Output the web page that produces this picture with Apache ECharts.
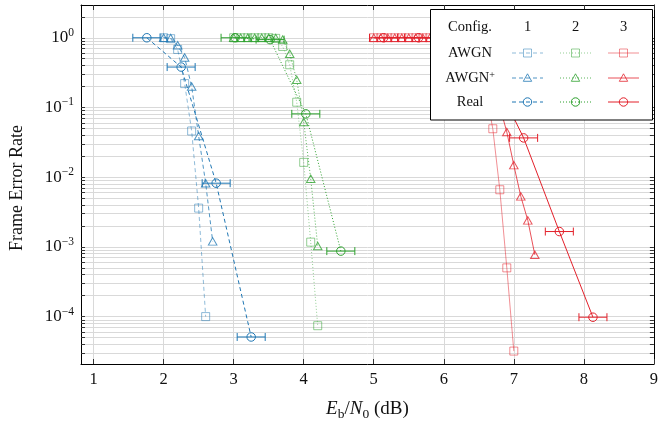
<!DOCTYPE html>
<html><head><meta charset="utf-8">
<script src="https://cdn.jsdelivr.net/npm/echarts@6/dist/echarts.min.js"></script>
<style>html,body{margin:0;padding:0;background:#fff}#c{width:661px;height:426px}</style>
</head><body><div id="c"></div>
<script>
// ---------- data ----------
const xTickValues = [1, 2, 3, 4, 5, 6, 7, 8, 9];
const yDecadeExponents = [-4, -3, -2, -1, 0];
const configLabels = ['1', '2', '3'];
const rowLabels = ['AWGN', 'AWGN+', 'Real'];

// Config 1
const awgn1X = [2.0, 2.1, 2.2, 2.3, 2.4, 2.5, 2.6];
const awgn1Y = [1.0, 0.97, 0.68, 0.22, 0.046, 0.0036, 0.0001];
const awgnPlus1X = [2.0, 2.1, 2.2, 2.3, 2.4, 2.5, 2.6, 2.7];
const awgnPlus1Y = [1.0, 0.99, 0.78, 0.52, 0.2, 0.039, 0.0082, 0.0012];
const real1X = [1.76, 2.25, 2.75, 3.25];
const real1Y = [1.0, 0.38, 0.0082, 5.1e-5];
const real1Err = [0.2, 0.2, 0.2, 0.2];

// Config 2
const awgn2X = [3.0, 3.1, 3.2, 3.3, 3.4, 3.5, 3.6, 3.7, 3.8, 3.9, 4.0, 4.1, 4.2];
const awgn2Y = [1, 1, 1, 1, 1, 1, 0.98, 0.75, 0.41, 0.119, 0.0163, 0.00117, 7.4e-5];
const awgnPlus2X = [3.0, 3.1, 3.2, 3.3, 3.4, 3.5, 3.6, 3.7, 3.8, 3.9, 4.0, 4.1, 4.2];
const awgnPlus2Y = [1, 1, 1, 1, 1, 1, 0.99, 0.94, 0.59, 0.25, 0.062, 0.0095, 0.00103];
const real2X = [3.02, 3.52, 4.03, 4.53];
const real2Y = [1.0, 0.94, 0.081, 8.7e-4];
const real2Err = [0.2, 0.2, 0.2, 0.2];

// Config 3
const awgn3X = [5.0, 5.1, 5.2, 5.3, 5.4, 5.5, 5.6, 5.7, 5.8, 5.9, 6.0, 6.1, 6.2, 6.3, 6.4, 6.5, 6.6, 6.7, 6.8, 6.9, 7.0];
const awgn3Y = [1, 1, 1, 1, 1, 1, 1, 1, 1, 1, 1, 1, 1, 0.97, 0.85, 0.55, 0.17, 0.0495, 0.0066, 5.0e-4, 3.2e-5];
const awgnPlus3X = [5.0, 5.1, 5.2, 5.3, 5.4, 5.5, 5.6, 5.7, 5.8, 5.9, 6.0, 6.1, 6.2, 6.3, 6.4, 6.5, 6.6, 6.7, 6.8, 6.9, 7.0, 7.1, 7.2, 7.3];
const awgnPlus3Y = [1, 1, 1, 1, 1, 1, 1, 1, 1, 1, 1, 1, 1, 1, 0.92, 0.75, 0.5, 0.25, 0.103, 0.0445, 0.0149, 0.0053, 0.0024, 7.7e-4];
const real3X = [5.14, 5.64, 6.14, 6.64, 7.14, 7.65, 8.13];
const real3Y = [1.0, 1.0, 0.98, 0.39, 0.0366, 0.00166, 9.8e-5];
const real3Err = [0.2, 0.2, 0.2, 0.2, 0.2, 0.2, 0.2];

// ---------- styling ----------
const FONT = 'Liberation Serif';
const TXT = '#111';
const GRIDC = '#d9d9d9';
const configStyles = [
  { color: '#1f77b4', dash: [4, 3] },
  { color: '#2ca02c', dash: [1, 2] },
  { color: '#e3202a', dash: 'solid' }
];
const rowStyles = [
  { symbol: 'rect', size: 8, opacity: 0.5 },
  { symbol: 'triangle', size: [8.5, 7.5], opacity: 0.78 },
  { symbol: 'circle', size: 8.5, opacity: 1 }
];
const seriesData = [
  [[awgn1X, awgn1Y], [awgnPlus1X, awgnPlus1Y], [real1X, real1Y, real1Err]],
  [[awgn2X, awgn2Y], [awgnPlus2X, awgnPlus2Y], [real2X, real2Y, real2Err]],
  [[awgn3X, awgn3Y], [awgnPlus3X, awgnPlus3Y], [real3X, real3Y, real3Err]]
];

const lg = Math.log10;
const series = [];
seriesData.forEach((rows, ci) => {
  const cs = configStyles[ci];
  rows.forEach((d, ri) => {
    const rs = rowStyles[ri];
    series.push({
      type: 'line',
      name: rowLabels[ri] + ' ' + configLabels[ci],
      data: d[0].map((x, i) => [x, lg(d[1][i])]),
      symbol: rs.symbol,
      symbolSize: rs.size,
      showAllSymbol: true,
      lineStyle: { color: cs.color, width: 1, type: cs.dash, opacity: rs.opacity },
      itemStyle: { color: 'transparent', borderColor: cs.color, borderWidth: 1, opacity: rs.opacity },
      emphasis: { disabled: true },
      z: 2 + ri
    });
    if (d[2]) {
      series.push({
        type: 'custom',
        silent: true,
        z: 5,
        data: d[0].map((x, i) => [x, lg(d[1][i]), d[2][i]]),
        renderItem: (params, api) => {
          const x = api.value(0), y = api.value(1), e = api.value(2);
          const a = api.coord([x - e, y]), b = api.coord([x + e, y]);
          const st = { stroke: cs.color, lineWidth: 1, fill: null };
          return {
            type: 'group', children: [
              { type: 'line', shape: { x1: a[0], y1: a[1], x2: b[0], y2: b[1] }, style: st },
              { type: 'line', shape: { x1: a[0], y1: a[1] - 4, x2: a[0], y2: a[1] + 4 }, style: st },
              { type: 'line', shape: { x1: b[0], y1: b[1] - 4, x2: b[0], y2: b[1] + 4 }, style: st }
            ]
          };
        }
      });
    }
  });
});

// minor/major log positions for ticks & grid lines
const yMin = -4.68, yMax = 0.47;
const yTickPositions = [];
for (let d = -5; d <= 0; d++) {
  for (let k = 1; k <= 9; k++) {
    const v = d + lg(k);
    if (v >= yMin && v <= yMax) yTickPositions.push(v);
  }
}

// ---------- legend (table) ----------
const legBox = { x: 430.5, y: 9.5, w: 222, h: 110.5 };
const colX = [527.5, 575.5, 623.5];
const rowY = [53, 78, 102];
const labelX = 470, headerY = 27;
const LFS = 14.5;
const graphic = [];
graphic.push({ type: 'rect', z: 100, shape: { x: legBox.x, y: legBox.y, width: legBox.w, height: legBox.h },
  style: { fill: '#fff', stroke: '#000', lineWidth: 1 } });
graphic.push({ type: 'text', z: 101, x: labelX, y: headerY,
  style: { text: 'Config.', fontFamily: FONT, fontSize: LFS, fill: TXT, align: 'center', verticalAlign: 'middle' } });
configLabels.forEach((c, i) => graphic.push({ type: 'text', z: 101, x: colX[i], y: headerY,
  style: { text: c, fontFamily: FONT, fontSize: LFS, fill: TXT, align: 'center', verticalAlign: 'middle' } }));
rowLabels.forEach((r, ri) => {
  const txt = r.endsWith('+') ? r.slice(0, -1) + '{s|+}' : r;
  graphic.push({ type: 'text', z: 101, x: labelX, y: rowY[ri],
    style: { text: txt, fontFamily: FONT, fontSize: LFS, fill: TXT, align: 'center', verticalAlign: 'middle',
      rich: { s: { fontFamily: FONT, fontSize: 10, fill: TXT, verticalAlign: 'top', lineHeight: 10 } } } });
  configStyles.forEach((cs, ci) => {
    const cx = colX[ci], cy = rowY[ri], op = rowStyles[ri].opacity;
    const st = { stroke: cs.color, lineWidth: 1, fill: 'none', opacity: op };
    graphic.push({ type: 'line', z: 101, shape: { x1: cx - 15.5, y1: cy, x2: cx + 15.5, y2: cy },
      style: Object.assign({}, st, { lineDash: cs.dash === 'solid' ? null : cs.dash }) });
    if (ri === 0) graphic.push({ type: 'rect', z: 102, shape: { x: cx - 4, y: cy - 4, width: 8, height: 8 }, style: st });
    else if (ri === 1) graphic.push({ type: 'polygon', z: 102, shape: { points: [[cx, cy - 4.2], [cx - 4.2, cy + 3.3], [cx + 4.2, cy + 3.3]] }, style: st });
    else graphic.push({ type: 'circle', z: 102, shape: { cx: cx, cy: cy, r: 4.2 }, style: st });
  });
});

// ---------- chart ----------
const chart = echarts.init(document.getElementById('c'), null, { renderer: 'canvas' });
const supDigits = v => (v < 0 ? '\u2212' + (-v) : '' + v);
chart.setOption({
  animation: false,
  backgroundColor: '#fff',
  grid: { left: 79, right: 1, top: 5, bottom: 57, containLabel: false },
  xAxis: [{
    type: 'value', min: 0.82, max: 9,
    axisLine: { show: true, onZero: false, lineStyle: { color: '#000', width: 1 } },
    axisTick: { show: true, inside: true, length: 5, customValues: xTickValues, lineStyle: { color: '#333' } },
    axisLabel: { customValues: xTickValues, margin: 7, color: TXT, fontFamily: FONT, fontSize: 16.5 },
    splitLine: { show: true, lineStyle: { color: GRIDC, width: 1 } },
    name: '{i|E}{s|b}{n|/}{i|N}{s|0}{n| (dB)}',
    nameLocation: 'middle', nameGap: 33,
    nameTextStyle: { color: TXT, fontFamily: FONT, fontSize: 19,
      rich: {
        i: { fontFamily: FONT, fontSize: 19, fontStyle: 'italic', color: TXT, lineHeight: 24 },
        n: { fontFamily: FONT, fontSize: 19, color: TXT, lineHeight: 24 },
        s: { fontFamily: FONT, fontSize: 13.5, color: TXT, lineHeight: 13, verticalAlign: 'bottom' }
      } }
  }, {
    type: 'value', min: 0.82, max: 9, position: 'top',
    axisLine: { show: true, onZero: false, lineStyle: { color: '#000', width: 1 } },
    axisTick: { show: true, inside: true, length: 5, customValues: xTickValues, lineStyle: { color: '#333' } },
    axisLabel: { show: false }, splitLine: { show: false }
  }],
  yAxis: [{
    type: 'value', min: yMin, max: yMax,
    axisLine: { show: true, onZero: false, lineStyle: { color: '#000', width: 1 } },
    axisTick: { show: true, inside: true, length: 4, customValues: yTickPositions, lineStyle: { color: '#333' } },
    axisLabel: {
      customValues: yDecadeExponents, margin: 7, color: TXT, fontFamily: FONT,
      formatter: v => '{b|10}{s|' + supDigits(Math.round(v)) + '}',
      rich: {
        b: { fontFamily: FONT, fontSize: 17, color: TXT, lineHeight: 22 },
        s: { fontFamily: FONT, fontSize: 11.5, color: TXT, lineHeight: 11, verticalAlign: 'top' }
      }
    },
    splitLine: { show: true, lineStyle: { color: GRIDC, width: 1 } },
    name: 'Frame Error Rate', nameLocation: 'middle', nameGap: 55,
    nameTextStyle: { color: TXT, fontFamily: FONT, fontSize: 18, padding: [0, 7, 0, 0] }
  }, {
    type: 'value', min: yMin, max: yMax, position: 'right',
    axisLine: { show: true, onZero: false, lineStyle: { color: '#000', width: 1 } },
    axisTick: { show: true, inside: true, length: 4, customValues: yTickPositions, lineStyle: { color: '#333' } },
    axisLabel: { show: false }, splitLine: { show: false }
  }],
  series: series,
  graphic: graphic
});
</script>
</body></html>
